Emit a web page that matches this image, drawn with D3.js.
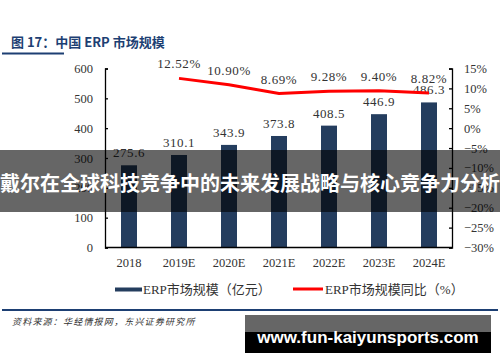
<!DOCTYPE html>
<html>
<head>
<meta charset="utf-8">
<script src="https://cdn.jsdelivr.net/npm/d3@7/dist/d3.min.js"></script>
<style>
  html, body { margin: 0; padding: 0; background: #fff; }
  svg { display: block; }
</style>
</head>
<body>
<svg width="500" height="362"></svg>
<script>
const years = ['2018', '2019E', '2020E', '2021E', '2022E', '2023E', '2024E']
const marketSize = [275.6, 310.1, 343.9, 373.8, 408.5, 446.9, 486.3]
const growth = [null, 12.52, 10.90, 8.69, 9.28, 9.40, 8.82]
const leftTicks = [0, 100, 200, 300, 400, 500, 600]
const rightTicks = [-30, -25, -20, -15, -10, -5, 0, 5, 10, 15]

const svg = d3.select('svg')
const serif = '"Liberation Serif", "Noto Sans CJK SC", serif'
const navy = '#243d5e'

// title + rules
svg.append('text')
    .attr('x', 11).attr('y', 47)
    .attr('font-family', '"Noto Sans CJK SC", sans-serif')
    .attr('font-weight', 'bold')
    .attr('font-size', 13)
    .attr('fill', '#1d3f73')
    .text('图 17：中国 ERP 市场规模')
svg.append('rect').attr('x', 2).attr('y', 52.5).attr('width', 62).attr('height', 2).attr('fill', '#1d3f73')
svg.append('rect').attr('x', 2).attr('y', 309).attr('width', 496).attr('height', 2).attr('fill', '#1d3f73')

svg.append('text')
    .attr('x', 12).attr('y', 325)
    .attr('font-family', '"Noto Sans CJK SC", sans-serif')
    .attr('font-style', 'italic')
    .attr('font-size', 9)
    .attr('letter-spacing', 1.2)
    .attr('fill', '#333')
    .text('资料来源：华经情报网，东兴证券研究所')

// scales
const x = d3.scaleBand().domain(years).range([104, 454]).paddingInner(0.68).paddingOuter(0.34)
const yL = d3.scaleLinear().domain([0, 600]).range([247.5, 68.5])
const yR = d3.scaleLinear().domain([-30, 15]).range([247.5, 68.5])

// bars
svg.append('g').selectAll('rect')
    .data(marketSize)
    .join('rect')
    .attr('x', (d, i) => x(years[i]))
    .attr('width', x.bandwidth())
    .attr('y', d => yL(d))
    .attr('height', d => yL(0) - yL(d))
    .attr('fill', navy)

svg.append('g').selectAll('text')
    .data(marketSize)
    .join('text')
    .attr('x', (d, i) => x(years[i]) + x.bandwidth() / 2)
    .attr('y', d => yL(d) - 8)
    .attr('text-anchor', 'middle')
    .attr('font-family', serif)
    .attr('font-size', 13)
    .attr('letter-spacing', 0.6)
    .attr('fill', '#333')
    .text(d => d.toFixed(1))

// axes
const axisL = svg.append('g')
    .attr('transform', 'translate(105,0)')
    .call(d3.axisLeft(yL).tickValues(leftTicks).tickSize(-3).tickPadding(12))
const axisR = svg.append('g')
    .attr('transform', 'translate(452,0)')
    .call(d3.axisRight(yR).tickValues(rightTicks).tickSize(-3).tickPadding(12).tickFormat(d => d + '%'))
const axisB = svg.append('g')
    .attr('transform', 'translate(0,247.5)')
    .call(d3.axisBottom(x).tickSize(0).tickPadding(11))

for (const g of [axisL, axisR, axisB]) {
    g.select('.domain').attr('stroke', '#000').attr('stroke-width', 1.3)
    g.selectAll('.tick line').attr('stroke', '#000').attr('stroke-width', 1.3)
    g.selectAll('.tick text')
        .attr('font-family', serif)
        .attr('font-size', 12.5)
        .attr('fill', '#333')
}
axisB.select('.domain').attr('d', 'M105,0H452')
axisR.selectAll('.tick text').attr('x', 12).text(d => String(d).replace('-', '−') + '%')

// growth line
const pts = growth.map((g, i) => ({ g, year: years[i] })).filter(d => d.g !== null)
svg.append('path')
    .datum(pts)
    .attr('fill', 'none')
    .attr('stroke', '#ff0000')
    .attr('stroke-width', 3)
    .attr('d', d3.line().x(d => x(d.year) + x.bandwidth() / 2).y(d => yR(d.g)))

svg.append('g').selectAll('text')
    .data(pts)
    .join('text')
    .attr('x', d => x(d.year) + x.bandwidth() / 2)
    .attr('y', d => yR(d.g) - 10)
    .attr('text-anchor', 'middle')
    .attr('font-family', serif)
    .attr('font-size', 13)
    .attr('letter-spacing', 0.6)
    .attr('fill', '#333')
    .text(d => d.g.toFixed(2) + '%')

// legend
const legend = svg.append('g').attr('font-family', serif).attr('font-size', 13).attr('fill', '#333')
legend.append('rect').attr('x', 115).attr('y', 287.5).attr('width', 27).attr('height', 4).attr('fill', navy)
legend.append('text').attr('x', 143).attr('y', 294).text('ERP市场规模（亿元）')
legend.append('rect').attr('x', 293).attr('y', 287.5).attr('width', 30).attr('height', 3).attr('fill', '#ff0000')
legend.append('text').attr('x', 325).attr('y', 294).text('ERP市场规模同比（%）')

// overlay banner
svg.append('rect').attr('x', 0).attr('y', 150).attr('width', 500).attr('height', 62)
    .attr('fill', '#000').attr('opacity', 0.6)
svg.append('text')
    .attr('x', 250).attr('y', 190.5)
    .attr('text-anchor', 'middle')
    .attr('font-family', '"Noto Sans CJK SC", sans-serif')
    .attr('font-weight', 'bold')
    .attr('font-size', 20)
    .attr('fill', '#fff')
    .text('戴尔在全球科技竞争中的未来发展战略与核心竞争力分析')

// site watermark
svg.append('rect').attr('x', 245).attr('y', 315).attr('width', 246).attr('height', 18).attr('fill', '#666')
svg.append('rect').attr('x', 245).attr('y', 332).attr('width', 246).attr('height', 21).attr('fill', '#000')
svg.append('text')
    .attr('x', 368).attr('y', 343)
    .attr('text-anchor', 'middle')
    .attr('font-family', '"Liberation Sans", Arial, sans-serif')
    .attr('font-weight', 'bold')
    .attr('font-size', 17)
    .attr('fill', '#fff')
    .text('www.fun-kaiyunsports.com')
</script>
</body>
</html>
